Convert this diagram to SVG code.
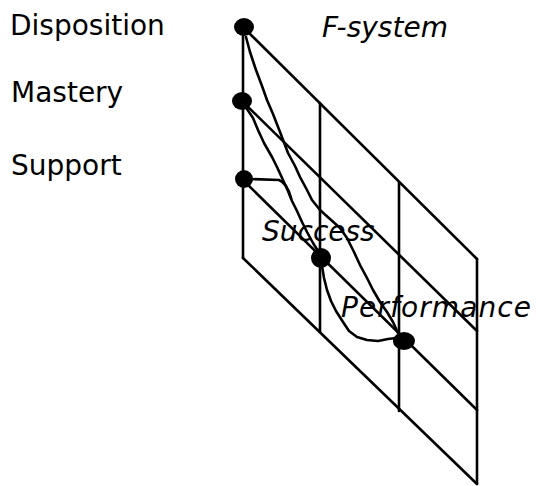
<svg xmlns="http://www.w3.org/2000/svg" width="539" height="486" viewBox="0 0 539 486">
<style>
.g{stroke:#000;stroke-width:2.6;fill:none;stroke-linecap:round}
.c{stroke:#000;stroke-width:2.6;fill:none;stroke-linecap:round;stroke-linejoin:round}
.n{fill:#000}
.t{font-family:"DejaVu Sans",sans-serif;font-size:28px;fill:#000}
.i{font-style:italic}
</style>
<rect width="539" height="486" fill="#fff"/>
<g id="grid">
<line class="g" x1="243" y1="27" x2="243" y2="258"/>
<line class="g" x1="477" y1="259" x2="477" y2="484"/>
<line class="g" x1="320" y1="103" x2="320" y2="332"/>
<line class="g" x1="399" y1="182" x2="399" y2="411"/>
<line class="g" x1="243" y1="27" x2="477" y2="259"/>
<line class="g" x1="243" y1="102" x2="477" y2="331"/>
<line class="g" x1="243" y1="180" x2="477" y2="410"/>
<line class="g" x1="243" y1="258" x2="477" y2="484"/>
</g>
<g id="connectors">
<path class="c" d="M246,37 L250,52 L256,70 L262,86 L267,100 L273,114 L280,132 L288,153 L295,166 L300,177 L307,190 L312,200 L320,210 L330,219 L340,228 L347,238 L354,252 L360,265 L367,278 L373,290 L380,302 L387,312 L393,322 L398,333"/>
<path class="c" d="M247,109 L253,118 L258,130 L264,143 L272,157 L277,167 L283,180 L288,191 L292,201 L297,211 L302,222 L307,232 L313,243 L318,251"/>
<path class="c" d="M250,179 L279,180 Q287,183 291,198"/>
<path class="c" d="M322,266 L324,278 L327,290 L331,301 L336,311 L343,322 L349,331 L357,337 L367,340 L378,341 L388,339 L396,338"/>
</g>
<g id="disposition">
<ellipse class="n" cx="244" cy="27" rx="10" ry="9"/>
<text class="t" x="10" y="35">Disposition</text>
</g>
<g id="mastery">
<ellipse class="n" cx="242" cy="101" rx="10" ry="9"/>
<text class="t" x="11" y="102">Mastery</text>
</g>
<g id="support">
<ellipse class="n" cx="244" cy="179" rx="9" ry="9"/>
<text class="t" x="11" y="175">Support</text>
</g>
<g id="success">
<ellipse class="n" cx="321" cy="258" rx="10" ry="10"/>
<text class="t i" x="262" y="241">Success</text>
</g>
<g id="performance">
<ellipse class="n" cx="404" cy="341" rx="11" ry="9"/>
<text class="t i" x="341" y="317" textLength="190" lengthAdjust="spacing">Performance</text>
</g>
<g id="fsystem">
<text class="t i" x="322" y="37">F-system</text>
</g>
</svg>
